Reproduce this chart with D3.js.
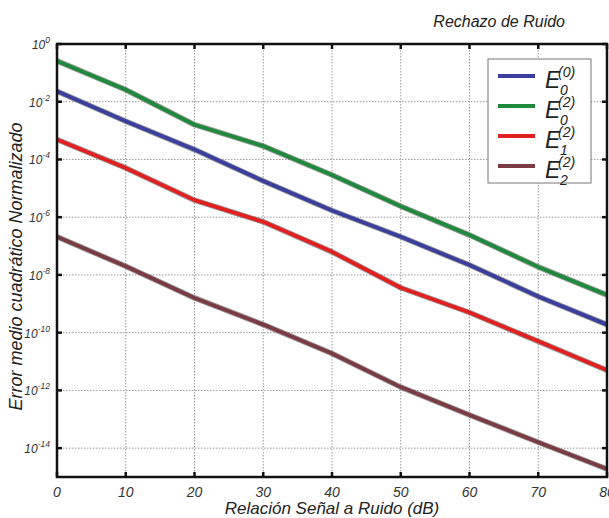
<!DOCTYPE html>
<html>
<head>
<meta charset="utf-8">
<script src="https://cdn.jsdelivr.net/npm/d3@7"></script>
<style>
  body { margin: 0; background: #fff; }
  text { font-family: "Liberation Sans", Arial, sans-serif; font-style: italic; }
</style>
</head>
<body>
<div id="chart"></div>
<script>
(function() {
  var width = 609,
    height = 518;

  // SNR values (dB)
  var snr = [0, 10, 20, 30, 40, 50, 60, 70, 80];

  // normalised mean square error
  var e00 = [2.3e-2, 2.1e-3, 2.2e-4, 1.8e-5, 1.7e-6, 2.1e-7, 2.2e-8, 1.8e-9, 1.9e-10];
  var e02 = [2.6e-1, 2.6e-2, 1.6e-3, 2.9e-4, 2.9e-5, 2.4e-6, 2.4e-7, 1.9e-8, 2.0e-9];
  var e12 = [4.9e-4, 5.1e-5, 3.9e-6, 6.9e-7, 6.3e-8, 3.6e-9, 5.0e-10, 5.0e-11, 5.0e-12];
  var e22 = [2.1e-7, 2.0e-8, 1.6e-9, 1.9e-10, 1.9e-11, 1.3e-12, 1.4e-13, 1.6e-14, 1.9e-15];

  var seriesNames = ["E00", "E02", "E12", "E22"];
  var legendSup = ["(0)", "(2)", "(2)", "(2)"];
  var legendSub = ["0", "0", "1", "2"];
  var xTicks = [0, 10, 20, 30, 40, 50, 60, 70, 80];
  var yExponents = [0, -2, -4, -6, -8, -10, -12, -14];

  var colorScale = d3.scaleOrdinal().domain(seriesNames)
    .range(["#3a3f9e", "#1f8a3b", "#e3201f", "#7a3c42"]);

  var series = [e00, e02, e12, e22].map(function(vals, i) {
    return { name: seriesNames[i], values: vals.map(function(v, j) { return { x: snr[j], y: v }; }) };
  });

  var left = 57, right = 607, top = 44, bottom = 477;

  var x = d3.scaleLinear().domain([0, 80]).range([left, right]);
  var y = d3.scaleLog().domain([1e-15, 1]).range([bottom, top]);

  var svg = d3.select("#chart").append("svg")
    .attr("width", width)
    .attr("height", height);

  // grid
  svg.append("g").selectAll("line")
    .data(xTicks.slice(1, -1))
    .enter().append("line")
    .attr("x1", function(d) { return x(d); })
    .attr("x2", function(d) { return x(d); })
    .attr("y1", top).attr("y2", bottom)
    .attr("stroke", "#9a9a9a")
    .attr("stroke-dasharray", "1.5,1.5");

  svg.append("g").selectAll("line")
    .data(yExponents.slice(1))
    .enter().append("line")
    .attr("x1", left).attr("x2", right)
    .attr("y1", function(d) { return y(Math.pow(10, d)); })
    .attr("y2", function(d) { return y(Math.pow(10, d)); })
    .attr("stroke", "#9a9a9a")
    .attr("stroke-dasharray", "1.5,1.5");

  // series lines (dark halo under the colour)
  var line = d3.line()
    .x(function(d) { return x(d.x); })
    .y(function(d) { return y(d.y); });

  var plot = svg.append("g");
  plot.selectAll(".halo")
    .data(series)
    .enter().append("path")
    .attr("class", "halo")
    .attr("d", function(d) { return line(d.values); })
    .attr("fill", "none")
    .attr("stroke", "#555")
    .attr("stroke-opacity", 0.6)
    .attr("stroke-width", 5.5)
    .attr("stroke-linejoin", "round");

  plot.selectAll(".serie")
    .data(series)
    .enter().append("path")
    .attr("class", "serie")
    .attr("d", function(d) { return line(d.values); })
    .attr("fill", "none")
    .attr("stroke", function(d) { return colorScale(d.name); })
    .attr("stroke-width", 3.8)
    .attr("stroke-linejoin", "round");

  // frame
  svg.append("rect")
    .attr("x", left).attr("y", top)
    .attr("width", right - left).attr("height", bottom - top)
    .attr("fill", "none")
    .attr("stroke", "#111")
    .attr("stroke-width", 2.5);

  // inward ticks on all four sides
  var tickLen = 5;
  var ticks = svg.append("g").attr("stroke", "#111").attr("stroke-width", 2.5);
  xTicks.forEach(function(t) {
    ticks.append("line").attr("x1", x(t)).attr("x2", x(t)).attr("y1", bottom).attr("y2", bottom - tickLen);
    ticks.append("line").attr("x1", x(t)).attr("x2", x(t)).attr("y1", top).attr("y2", top + tickLen);
  });
  yExponents.forEach(function(e) {
    var yy = y(Math.pow(10, e));
    ticks.append("line").attr("x1", left).attr("x2", left + tickLen).attr("y1", yy).attr("y2", yy);
    ticks.append("line").attr("x1", right).attr("x2", right - tickLen).attr("y1", yy).attr("y2", yy);
  });

  // x tick labels
  svg.append("g").selectAll("text")
    .data(xTicks)
    .enter().append("text")
    .attr("x", function(d) { return x(d); })
    .attr("y", 497)
    .attr("text-anchor", "middle")
    .attr("font-size", 14)
    .attr("fill", "#333")
    .text(function(d) { return d; });

  // y tick labels 10^n
  var yl = svg.append("g").selectAll("text")
    .data(yExponents)
    .enter().append("text")
    .attr("x", 50)
    .attr("y", function(d) { return y(Math.pow(10, d)) + 5; })
    .attr("text-anchor", "end")
    .attr("font-size", 12)
    .attr("fill", "#333");
  yl.append("tspan").text("10");
  yl.append("tspan")
    .attr("dy", -6)
    .attr("font-size", 8.5)
    .text(function(d) { return d === 0 ? "0" : "-" + Math.abs(d); });

  // titles
  svg.append("text")
    .attr("x", 565).attr("y", 27)
    .attr("text-anchor", "end")
    .attr("font-size", 16)
    .attr("fill", "#222")
    .text("Rechazo de Ruido");

  svg.append("text")
    .attr("x", (left + right) / 2).attr("y", 514)
    .attr("text-anchor", "middle")
    .attr("font-size", 17)
    .attr("fill", "#222")
    .text("Relación Señal a Ruido (dB)");

  svg.append("text")
    .attr("transform", "translate(22," + ((top + bottom) / 2 + 6) + ") rotate(-90)")
    .attr("text-anchor", "middle")
    .attr("font-size", 18)
    .attr("fill", "#222")
    .text("Error medio cuadrático Normalizado");

  // legend
  var legend = svg.append("g");
  legend.append("rect")
    .attr("x", 488).attr("y", 59)
    .attr("width", 103).attr("height", 124)
    .attr("fill", "#fff")
    .attr("stroke", "#777")
    .attr("stroke-width", 1);

  var items = legend.selectAll(".item")
    .data(seriesNames)
    .enter().append("g")
    .attr("class", "item")
    .attr("transform", function(d, i) { return "translate(0," + (76 + i * 30) + ")"; });

  items.append("line")
    .attr("x1", 498).attr("x2", 535)
    .attr("y1", 0).attr("y2", 0)
    .attr("stroke", function(d) { return colorScale(d); })
    .attr("stroke-width", 4);

  items.append("text")
    .attr("x", 545).attr("y", 12)
    .attr("font-size", 23)
    .attr("fill", "#222")
    .text("E");
  items.append("text")
    .attr("x", 558).attr("y", 1)
    .attr("font-size", 14)
    .attr("fill", "#222")
    .text(function(d, i) { return legendSup[i]; });
  items.append("text")
    .attr("x", 560).attr("y", 19)
    .attr("font-size", 14)
    .attr("fill", "#222")
    .text(function(d, i) { return legendSub[i]; });
})();
</script>
</body>
</html>
